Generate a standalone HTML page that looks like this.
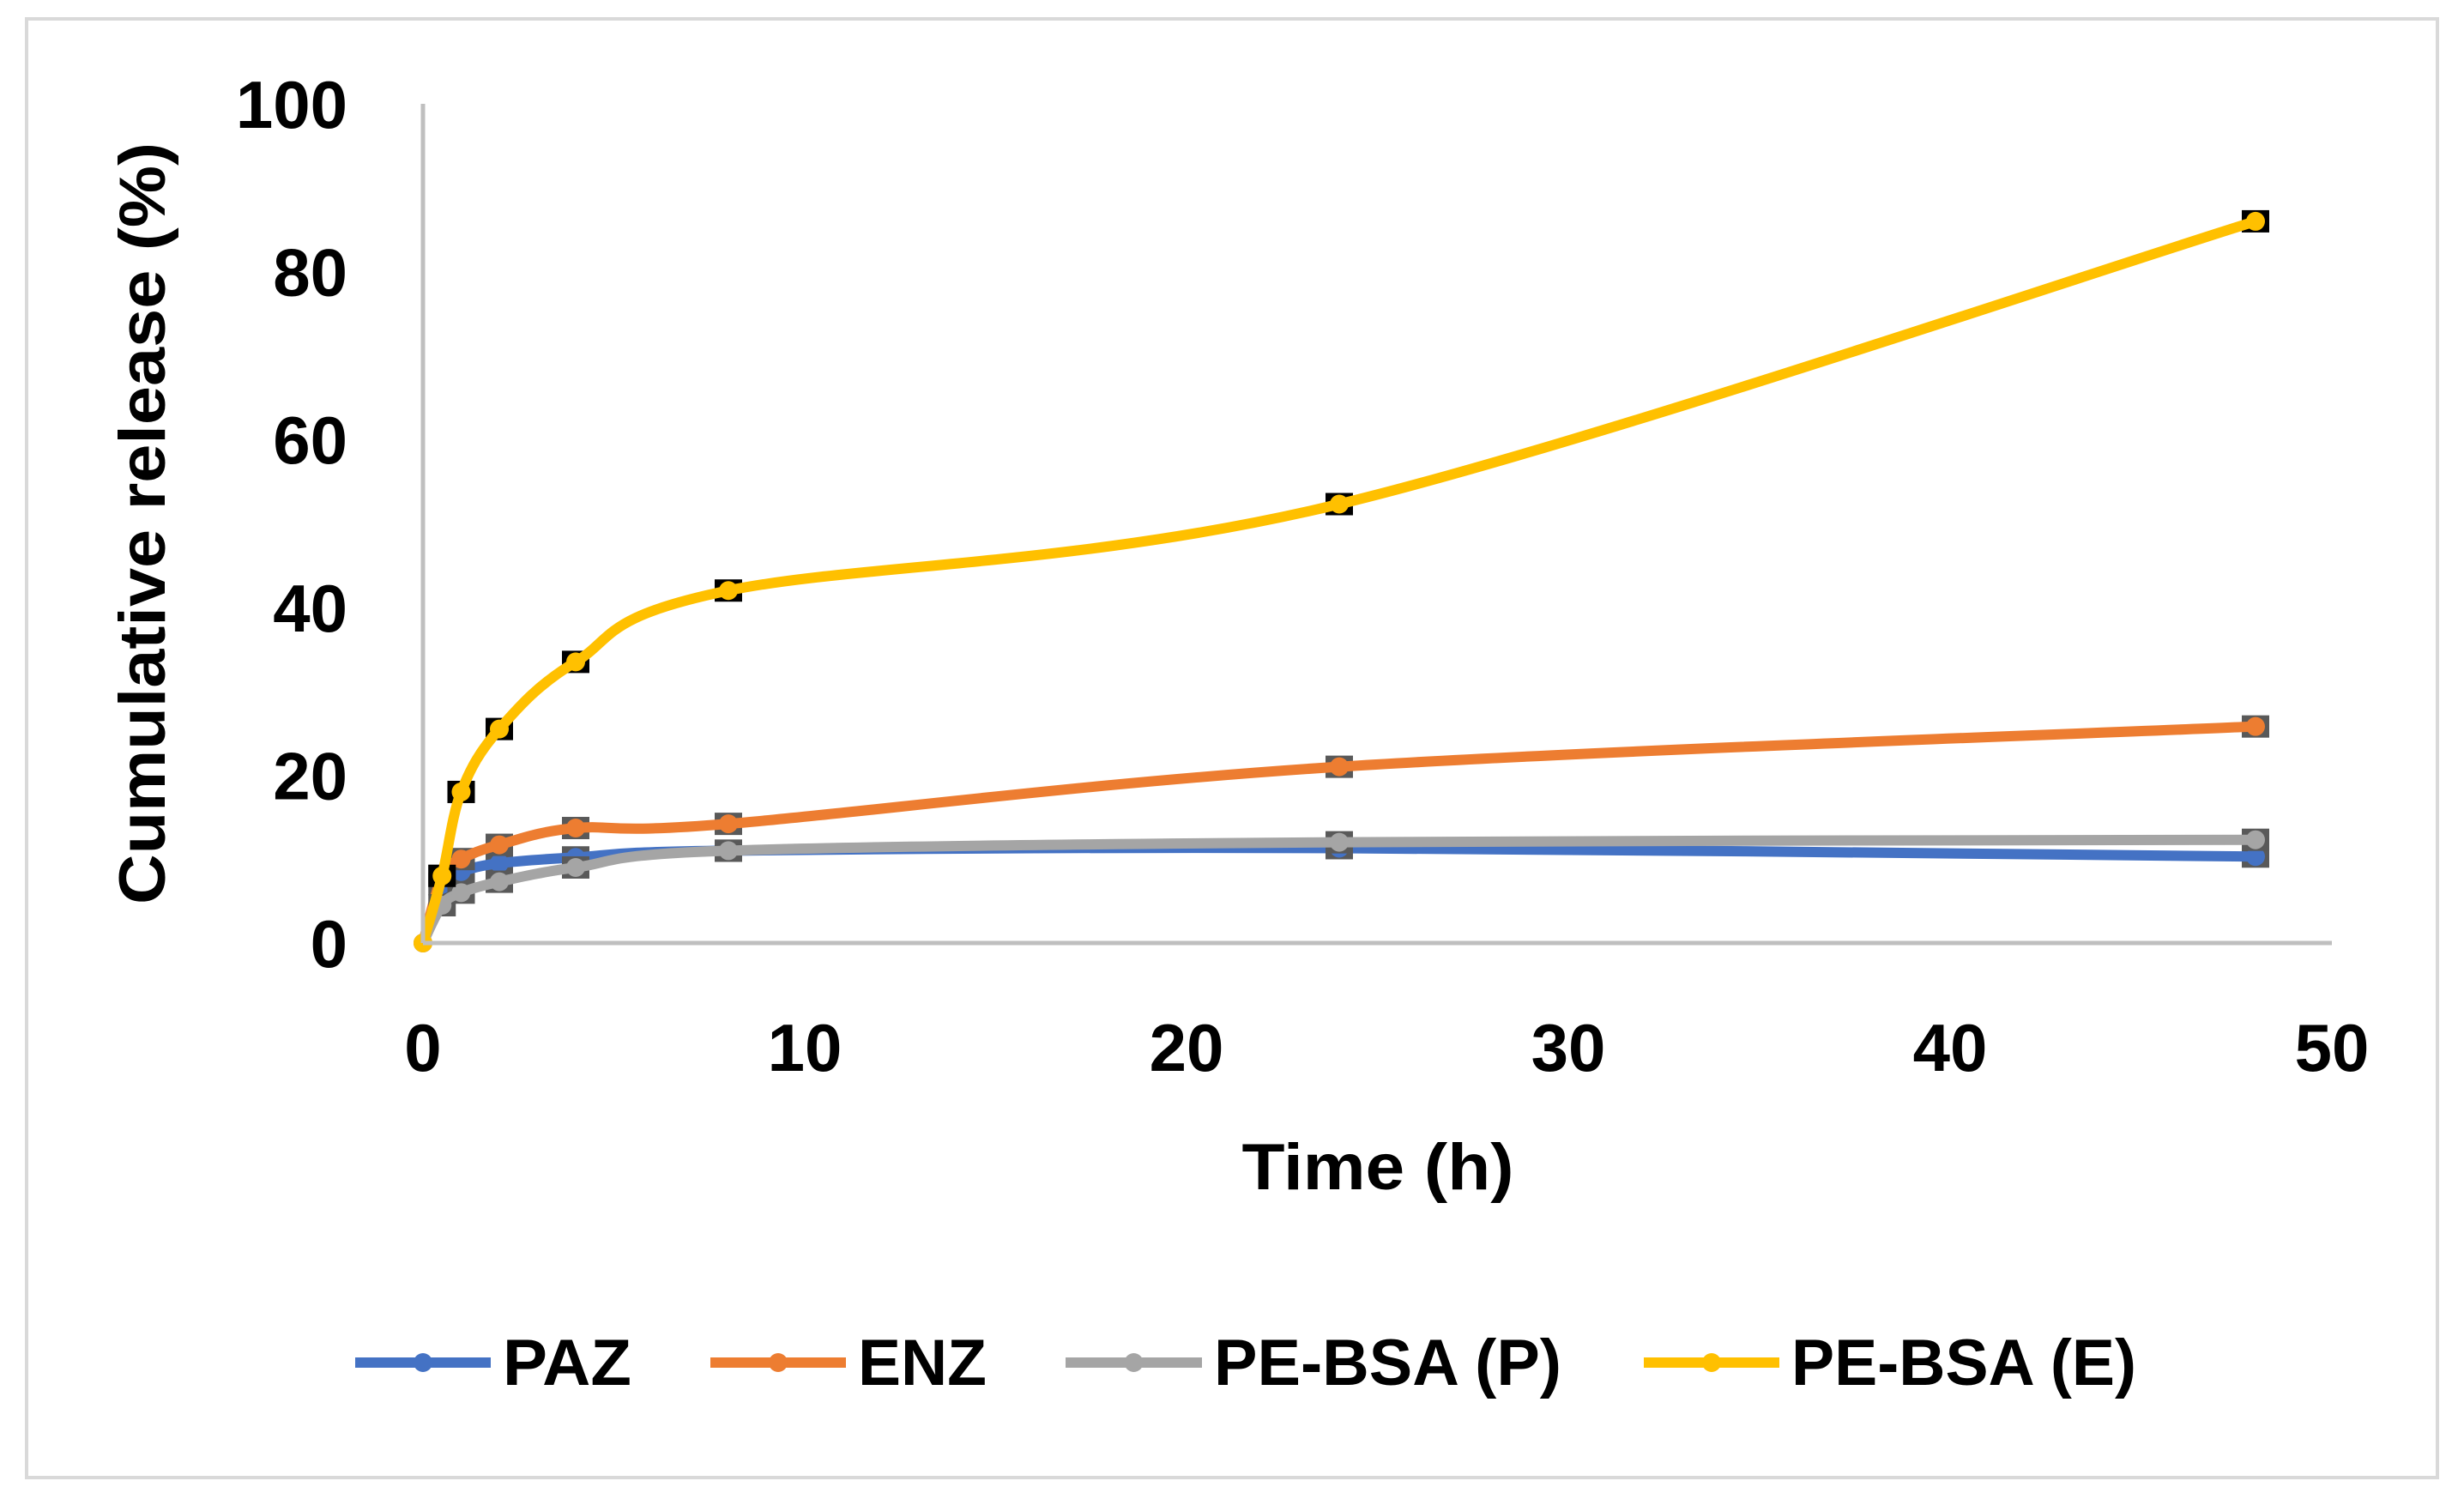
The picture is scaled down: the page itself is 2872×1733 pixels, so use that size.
<!DOCTYPE html>
<html><head><meta charset="utf-8"><style>
html,body{margin:0;padding:0;background:#fff}
svg{display:block}
text{font-family:"Liberation Sans",sans-serif;font-weight:bold;fill:#000}
</style></head><body>
<svg id="chart" width="2872" height="1733" viewBox="0 0 2872 1733" xmlns="http://www.w3.org/2000/svg">
<rect x="31" y="22" width="2810" height="1700" fill="#fff" stroke="#d9d9d9" stroke-width="4"/>
<g id="grid"></g>
<g id="series"></g>
<g id="axes"></g>
<text x="192" y="610" transform="rotate(-90 192 610)" text-anchor="middle" font-size="76" textLength="888" lengthAdjust="spacingAndGlyphs">Cumulative release (%)</text>
<text x="1606" y="1386" text-anchor="middle" font-size="76" textLength="317" lengthAdjust="spacingAndGlyphs">Time (h)</text>
<g id="legend"></g>
</svg>
<script>
const times = [0, 0.5, 1, 2, 4, 8, 24, 48];
const seriesNames = ["PAZ", "ENZ", "PE-BSA (P)", "PE-BSA (E)"];
const pazValues = [0, 7, 8.5, 9.5, 10.2, 11, 11.3, 10.3];
const enzValues = [0, 8, 10, 11.7, 13.7, 14.2, 21, 25.8];
const pebsaPValues = [0, 4.5, 6, 7.3, 9, 11, 12, 12.3];
const pebsaEValues = [0, 8, 18, 25.5, 33.5, 42, 52.3, 86];
const xTicks = [0, 10, 20, 30, 40, 50];
const yTicks = [0, 20, 40, 60, 80, 100];

const NS = "http://www.w3.org/2000/svg";
function X(t){ return 493 + t * 44.5; }
function Y(v){ return 1099 - v * 9.78; }
function mk(tag, attrs, parent){
  const e = document.createElementNS(NS, tag);
  for (const k in attrs) e.setAttribute(k, attrs[k]);
  parent.appendChild(e); return e;
}
const axes = document.getElementById('axes');
const yAxis = mk('line', {x1:X(0), y1:Y(100), x2:X(0), y2:Y(0), stroke:'#bfbfbf', 'stroke-width':5}, axes);


const xAxis = mk('line', {x1:X(0), y1:Y(0), x2:X(50), y2:Y(0), stroke:'#bfbfbf', 'stroke-width':5}, axes);


xTicks.forEach(t => {
  const tx = mk('text', {x:X(t), y:1248, 'text-anchor':'middle', 'font-size':78}, axes);
  tx.textContent = t;
  
  
});
yTicks.forEach(v => {
  const tx = mk('text', {x:405, y:Y(v)+28, 'text-anchor':'end', 'font-size':78}, axes);
  tx.textContent = v;
  
  
});

function smoothPath(pts){
  let d = `M${pts[0][0]},${pts[0][1]}`;
  for (let i = 0; i < pts.length - 1; i++){
    const p0 = pts[i-1] || pts[i], p1 = pts[i], p2 = pts[i+1], p3 = pts[i+2] || p2;
    const c1 = [p1[0] + (p2[0]-p0[0])/6, p1[1] + (p2[1]-p0[1])/6];
    const c2 = [p2[0] - (p3[0]-p1[0])/6, p2[1] - (p3[1]-p1[1])/6];
    d += ` C${c1[0]},${c1[1]} ${c2[0]},${c2[1]} ${p2[0]},${p2[1]}`;
  }
  return d;
}
const seriesData = [pazValues, enzValues, pebsaPValues, pebsaEValues];
const colors = ['#4472c4', '#ed7d31', '#a5a5a5', '#ffc000'];
const errColors = ['#595959', '#595959', '#595959', '#000000'];
const sg = document.getElementById('series');
seriesData.forEach((vals, si) => {
  const g = mk('g', {}, sg);
  
  
  vals.forEach((v, i) => {
    if (i === 0) return;
    const eb = mk('rect', {x:X(times[i])-16, y:Y(v)-13, width:32, height:26, fill:errColors[si]}, g);
    
    
  });
  const pts = vals.map((v, i) => [X(times[i]), Y(v)]);
  const path = mk('path', {d:smoothPath(pts), fill:'none', stroke:colors[si], 'stroke-width':12, 'stroke-linecap':'round'}, g);
  
  
  pts.forEach(p => {
    const c = mk('circle', {cx:p[0], cy:p[1], r:11, fill:colors[si]}, g);
    
    
  });
});

const legendX = [[414, 572, 586], [828, 986, 1000], [1242, 1401, 1415], [1916, 2074, 2088]];
const lg = document.getElementById('legend');
seriesNames.forEach((n, i) => {
  const g = mk('g', {}, lg);
  
  
  mk('line', {x1:legendX[i][0], y1:1588, x2:legendX[i][1], y2:1588, stroke:colors[i], 'stroke-width':12}, g);
  mk('circle', {cx:(legendX[i][0]+legendX[i][1])/2, cy:1588, r:11, fill:colors[i]}, g);
  const t = mk('text', {x:legendX[i][2], y:1614, 'font-size':76}, g);
  t.textContent = n;
  const widths = [150, 150, 405, 402];
  t.setAttribute('textLength', widths[i]);
  t.setAttribute('lengthAdjust', 'spacingAndGlyphs');
});
</script>
</body></html>
